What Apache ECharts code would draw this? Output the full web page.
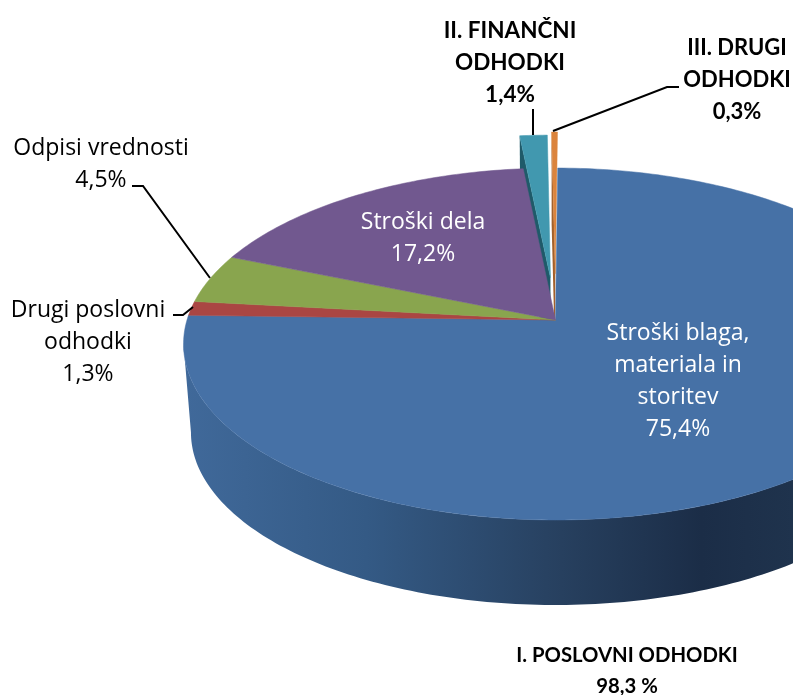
<!DOCTYPE html>
<html>
<head>
<meta charset="utf-8">
<style>
  html, body { margin: 0; padding: 0; background: #fff; overflow: hidden; }
  #chart { width: 793px; height: 695px; }
</style>
</head>
<body>
<div id="chart"></div>
<script src="https://cdn.jsdelivr.net/npm/echarts@6/dist/echarts.min.js"></script>
<script>
// values, clockwise from 12 o'clock
const categories = ['Stroški blaga,\nmateriala in\nstoritev', 'Drugi poslovni\nodhodki', 'Odpisi vrednosti', 'Stroški dela', 'II. FINANČNI\nODHODKI', 'III. DRUGI\nODHODKI'];
const values = [75.4, 1.3, 4.5, 17.2, 1.4, 0.3];
const colors = ['#4671a6', '#aa4643', '#89a54e', '#71588f', '#4198af', '#db843d'];
const sideColors = ['#2c4a70', '#6e2d2b', '#5a6d33', '#4a3a5e', '#1f5a69', '#a2602b'];
const explode = [0, 0, 0, 0, 0.254, 0.278];
const totalLabel = 'I. POSLOVNI ODHODKI';
const totalValue = 98.3;

// perspective pie
const cx = 555.5, cy = 320, rx = 368.5, ry = 172.7, persp = 0.1364;
const rotation = 0.4, depthY = 89, depthScale = 0.98;
const total = values.reduce((a, b) => a + b, 0);

function project(u, v, lower) {
  const w = 1 - persp * v;
  const s = lower ? depthScale : 1;
  return [cx + s * rx * u / w, cy + s * ry * v / w + (lower ? depthY : 0)];
}
function rimAt(deg, off, lower) {
  const a = deg * Math.PI / 180;
  return project(Math.sin(a) + off[0], -Math.cos(a) + off[1], lower);
}
function arc(from, to, off, lower) {
  const pts = [];
  const n = Math.max(2, Math.ceil(Math.abs(to - from)));
  for (let i = 0; i <= n; i++) pts.push(rimAt(from + (to - from) * i / n, off, lower));
  return pts;
}

const wallFill = new echarts.graphic.LinearGradient(184, 0, 793, 0, [
  { offset: 0, color: '#40699a' },
  { offset: 0.3, color: '#345a85' },
  { offset: 0.62, color: '#27405f' },
  { offset: 0.85, color: '#1b2d47' },
  { offset: 1, color: '#1f334d' }
], true);

function renderSlice(params) {
  const i = params.dataIndex;
  let sum = 0;
  for (let k = 0; k < i; k++) sum += values[k];
  const start = sum / total * 360 + rotation;
  const end = (sum + values[i]) / total * 360 + rotation;
  const mid = (start + end) / 2 * Math.PI / 180;
  const off = [Math.sin(mid) * explode[i], -Math.cos(mid) * explode[i]];
  const apex = project(off[0], off[1], false);
  const children = [];
  if (explode[i] > 0) {
    // only the left cut face shows on the pulled-out slices
    children.push({
      type: 'polygon', z2: i,
      shape: { points: [rimAt(start, off, false), apex, project(off[0], off[1], true), rimAt(start, off, true)] },
      style: { fill: sideColors[i] }
    });
  } else if (i === 0) {
    children.push({
      type: 'polygon', z2: 10,
      shape: { points: arc(97.8, 262.2, off, false).concat(arc(262.2, 97.8, off, true)) },
      style: { fill: wallFill }
    });
  }
  children.push({
    type: 'polygon', z2: explode[i] > 0 ? i + 1 : 20,
    shape: { points: [apex].concat(arc(start, end, off, false)) },
    style: { fill: colors[i], stroke: colors[i], lineWidth: 0.5 }
  });
  return { type: 'group', children: children };
}

const pct = v => v.toFixed(1).replace('.', ',') + '%';
const textAt = (text, x, y, extra) => ({
  type: 'text', z: 10,
  style: Object.assign({
    text: text, x: x, y: y, align: 'center', verticalAlign: 'middle',
    fontFamily: '"Open Sans", "Noto Sans", sans-serif', fontSize: 23, lineHeight: 32, fill: '#000'
  }, extra)
});
const leader = points => ({
  type: 'polyline', z: 9,
  shape: { points: points },
  style: { stroke: '#000', lineWidth: 2, fill: null }
});
const bold = { fontFamily: 'Lato, sans-serif', fontWeight: 'bold', fontSize: 22.5 };

const chart = echarts.init(document.getElementById('chart'));
chart.setOption({
  animation: false,
  backgroundColor: '#fff',
  series: [{
    type: 'custom',
    coordinateSystem: 'none',
    silent: true,
    data: values,
    renderItem: renderSlice
  }],
  graphic: [
    leader([[533, 135], [533, 109]]),
    leader([[553, 131], [667, 87], [679, 87]]),
    leader([[210, 278], [143, 186], [132, 186]]),
    leader([[193, 307], [183, 315], [173, 315]]),
    textAt(categories[0] + '\n' + pct(values[0]), 678, 381, { fill: '#fff' }),
    textAt(categories[3] + '\n' + pct(values[3]), 423, 238, { fill: '#fff' }),
    textAt(categories[2] + '\n' + pct(values[2]), 101, 164),
    textAt(categories[1] + '\n' + pct(values[1]), 88, 342),
    textAt(categories[4] + '\n' + pct(values[4]), 510, 63, bold),
    textAt(categories[5] + '\n' + pct(values[5]), 737, 80, Object.assign({}, bold, { fontSize: 22 })),
    textAt(totalLabel + '\n' + totalValue.toFixed(1).replace('.', ',') + ' %', 627, 671, Object.assign({}, bold, { fontSize: 20.3, lineHeight: 31 }))
  ]
});
</script>
</body>
</html>
